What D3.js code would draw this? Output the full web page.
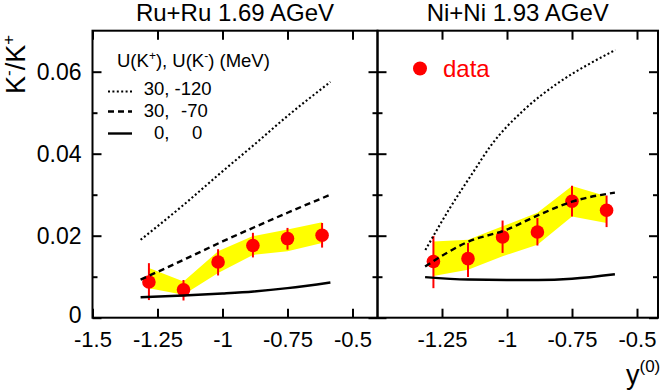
<!DOCTYPE html>
<html><head><meta charset="utf-8">
<script src="https://cdn.jsdelivr.net/npm/d3@7"></script>
<style>body{margin:0;background:#fff}svg{display:block}text{font-family:"Liberation Sans",Arial,sans-serif}</style>
</head><body>
<script>
// ---- data ----
const panelTitles = ["Ru+Ru 1.69 AGeV", "Ni+Ni 1.93 AGeV"];
const xTicksLeft = [-1.5, -1.25, -1, -0.75, -0.5];
const xTicksRight = [-1.25, -1, -0.75, -0.5];
const yTickLabels = [0, 0.02, 0.04, 0.06];
const yMinorTicks = [0.01, 0.03, 0.05];

const dataX = [-1.283, -1.15, -1.017, -0.883, -0.75, -0.617];
const ruY     = [0.0087, 0.0068, 0.0136, 0.0176, 0.0193, 0.0201];
const ruErrHi = [0.0133, 0.0092, 0.0167, 0.0207, 0.0219, 0.0231];
const ruErrLo = [0.0043, 0.0042, 0.0103, 0.0147, 0.0166, 0.0171];
const ruBandHi = [0.0121, 0.0088, 0.0162, 0.0199, 0.0215, 0.0233];
const ruBandLo = [0.0072, 0.0056, 0.0109, 0.0153, 0.0162, 0.0182];

const niY     = [0.0137, 0.0144, 0.0197, 0.0209, 0.0284, 0.0262];
const niErrHi = [0.0199, 0.0182, 0.0237, 0.0243, 0.0322, 0.0298];
const niErrLo = [0.0072, 0.0099, 0.0158, 0.0176, 0.0247, 0.0221];
const niBandHi = [0.0186, 0.0190, 0.0223, 0.0256, 0.0321, 0.0296];
const niBandLo = [0.0102, 0.0117, 0.0150, 0.0178, 0.0247, 0.0231];

const modelX = [-1.315, -1.15, -1.0, -0.88, -0.75, -0.585];
const ruDotted = [0.0190, 0.0275, 0.0357, 0.0421, 0.0492, 0.0575];
const ruDashed = [0.0093, 0.0141, 0.0186, 0.0220, 0.0256, 0.0300];
const ruSolid  = [0.0050, 0.0054, 0.0059, 0.0064, 0.0072, 0.0086];

const niDotX   = [-1.314, -1.224, -1.128, -1.064, -0.936, -0.807, -0.692, -0.583];
const niDotted = [0.0165, 0.0263, 0.0357, 0.0418, 0.0506, 0.0571, 0.0616, 0.0653];
const niDashed = [0.0125, 0.0185, 0.0215, 0.0250, 0.0283, 0.0305];
const niSolid  = [0.0099, 0.0093, 0.0092, 0.0092, 0.0095, 0.0106];

const legendLabels = [["30,", "-120"], ["30,", "-70"], ["0,", "0"]];

// ---- drawing ----
const W = 664, H = 391;
const svg = d3.select("body").append("svg").attr("width", W).attr("height", H);
const yS = d3.scaleLinear().domain([0, 0.07]).range([317.7, 30.7]);
const yTop = yS(0.07), yBot = yS(0);

const panels = [
  {x0: 92.5, x1: 377.5, xs: d3.scaleLinear().domain([-1.5, -0.5]).range([92.5, 352.5]), ticks: xTicksLeft,
   y: ruY, hi: ruErrHi, lo: ruErrLo, bHi: ruBandHi, bLo: ruBandLo,
   lines: [{x: modelX, y: ruDotted, st: "dot"}, {x: modelX, y: ruDashed, st: "dash"}, {x: modelX, y: ruSolid, st: "solid"}]},
  {x0: 377.5, x1: 658, xs: d3.scaleLinear().domain([-1.5, -0.5]).range([377, 637]), ticks: xTicksRight,
   y: niY, hi: niErrHi, lo: niErrLo, bHi: niBandHi, bLo: niBandLo,
   lines: [{x: niDotX, y: niDotted, st: "dot"}, {x: modelX, y: niDashed, st: "dash"}, {x: modelX, y: niSolid, st: "solid"}]}
];

function styleLine(sel, st) {
  sel.attr("fill", "none").attr("stroke", "#000");
  if (st === "dot") sel.attr("stroke-width", 2.1).attr("stroke-dasharray", "2,2.4");
  else if (st === "dash") sel.attr("stroke-width", 2.4).attr("stroke-dasharray", "6,4");
  else sel.attr("stroke-width", 2.4);
  return sel;
}

panels.forEach((p, i) => {
  const g = svg.append("g");
  const xs = p.xs;
  const idx = d3.range(dataX.length);
  const area = d3.area().x(d => xs(dataX[d])).y0(d => yS(p.bLo[d])).y1(d => yS(p.bHi[d]));
  g.append("path").attr("d", area(idx)).attr("fill", "#ffff00");
  g.selectAll("circle.pt").data(idx).join("circle").attr("class", "pt")
    .attr("cx", d => xs(dataX[d])).attr("cy", d => yS(p.y[d])).attr("r", 6.8).attr("fill", "#ff0000");
  g.selectAll("line.err").data(idx).join("line").attr("class", "err")
    .attr("x1", d => xs(dataX[d])).attr("x2", d => xs(dataX[d]))
    .attr("y1", d => yS(p.lo[d])).attr("y2", d => yS(p.hi[d]))
    .attr("stroke", "#ff0000").attr("stroke-width", 2);
  p.lines.forEach(l => {
    const ln = d3.line().x(d => xs(l.x[d])).y(d => yS(l.y[d])).curve(d3.curveMonotoneX);
    styleLine(g.append("path").attr("d", ln(d3.range(l.x.length))), l.st);
  });
  g.append("rect").attr("x", p.x0).attr("y", yTop).attr("width", p.x1 - p.x0).attr("height", yBot - yTop)
    .attr("fill", "none").attr("stroke", "#000").attr("stroke-width", 2);
  const xb = g.append("g").attr("transform", `translate(0,${yBot})`)
    .call(d3.axisBottom(xs).tickValues(p.ticks).tickSize(-9).tickPadding(14).tickFormat(d => String(d)));
  const xt = g.append("g").attr("transform", `translate(0,${yTop})`)
    .call(d3.axisTop(xs).tickValues(p.ticks).tickSize(-9).tickFormat(""));
  const ya = g.append("g").attr("transform", `translate(${p.x0},0)`)
    .call(d3.axisLeft(yS).tickValues(yTickLabels).tickSize(-9).tickPadding(11).tickFormat(i === 0 ? (d => String(d)) : ""));
  const ya2 = g.append("g").attr("transform", `translate(${p.x0},0)`)
    .call(d3.axisLeft(yS).tickValues(yMinorTicks).tickSize(-5).tickFormat(""));
  const yr = g.append("g").attr("transform", `translate(${p.x1},0)`)
    .call(d3.axisRight(yS).tickValues(yTickLabels).tickSize(-9).tickFormat(""));
  const yr2 = g.append("g").attr("transform", `translate(${p.x1},0)`)
    .call(d3.axisRight(yS).tickValues(yMinorTicks).tickSize(-5).tickFormat(""));
  [xb, xt, ya, ya2, yr, yr2].forEach(a => {
    a.select(".domain").remove();
    a.selectAll(".tick line").attr("stroke", "#000").attr("stroke-width", 2);
    a.selectAll("text").attr("fill", "#000")
      .attr("font-family", '"Liberation Sans",Arial,sans-serif');
  });
  xb.selectAll("text").attr("font-size", 22);
  ya.selectAll("text").attr("font-size", 23);
  ya.selectAll(".tick").filter(d => d === 0).select("text").attr("dy", "0.2em");
  g.append("text").attr("x", (p.x0 + p.x1) / 2).attr("y", 21).attr("text-anchor", "middle")
    .attr("font-size", 24).text(panelTitles[i]);
});

// legend (left panel)
const lg = svg.append("g");
const hdr = lg.append("text").attr("x", 117).attr("y", 66.5).attr("font-size", 18.5);
hdr.append("tspan").text("U(K");
hdr.append("tspan").attr("font-size", 12).attr("dy", -7).text("+");
hdr.append("tspan").attr("dy", 7).text("), U(K");
hdr.append("tspan").attr("font-size", 12).attr("dy", -7).text("-");
hdr.append("tspan").attr("dy", 7).text(") (MeV)");
const rowY = [95, 117, 138.5];
const lineY = [91.5, 111.5, 133.5];
const styles = ["dot", "dash", "solid"];
const col1End = 169.5, col2Start = [174.5, 181, 192];
rowY.forEach((y, k) => {
  styleLine(lg.append("line").attr("x1", 108).attr("x2", 132).attr("y1", lineY[k]).attr("y2", lineY[k]), styles[k]);
  lg.append("text").attr("x", col1End).attr("y", y).attr("text-anchor", "end").attr("font-size", 18.5).text(legendLabels[k][0]);
  lg.append("text").attr("x", col2Start[k]).attr("y", y).attr("font-size", 18.5).text(legendLabels[k][1]);
});

// data legend (right panel)
svg.append("circle").attr("cx", 420).attr("cy", 68.5).attr("r", 7).attr("fill", "#ff0000");
svg.append("text").attr("x", 443).attr("y", 77).attr("font-size", 24).attr("fill", "#ff0000").text("data");

// y label
const ylab = svg.append("text").attr("transform", "translate(25,94) rotate(-90)").attr("font-size", 27);
ylab.append("tspan").text("K");
ylab.append("tspan").attr("font-size", 17).attr("dy", -11).text("-");
ylab.append("tspan").attr("dy", 11).text("/K");
ylab.append("tspan").attr("font-size", 17).attr("dy", -11).text("+");

// x label
const xlab = svg.append("text").attr("x", 626).attr("y", 384).attr("font-size", 27);
xlab.append("tspan").text("y");
xlab.append("tspan").attr("font-size", 17).attr("dy", -12).text("(0)");
</script>
</body></html>
